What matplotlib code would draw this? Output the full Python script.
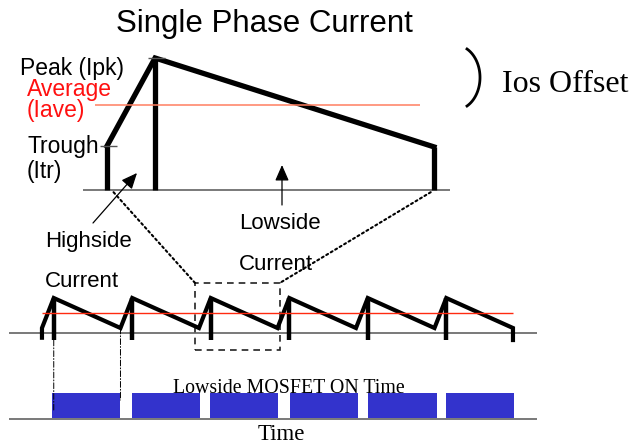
import numpy as np
import matplotlib
matplotlib.use('Agg')
import matplotlib.pyplot as plt
from matplotlib.patches import Rectangle, ConnectionPatch

W, H = 634, 444

# zoomed single cycle: trough -> peak -> end of lowside ramp (time in cycles, current in A)
zoom_t = [0.0, 0.147, 1.0]
zoom_i = [10.0, 30.0, 9.8]
zoom_iave = 19.3

# overview waveform (six cycles)
trough_t = [0, 1, 2, 3, 4, 5, 6]
peak_t = [0.15, 1.15, 2.15, 3.15, 4.15, 5.15]
ov_ipk = 30.0
ov_itr = 4.3
ov_iave = 17.0
ov_ilow = -6.0
zoom_window_t = [1.95, 3.03]
zoom_window_i = [-14.6, 42.9]

# lowside MOSFET ON intervals
on_start = [0.13, 1.15, 2.14, 3.16, 4.15, 5.15]
on_end = [0.99, 2.01, 3.01, 4.03, 5.03, 6.01]

SANS = 'Liberation Sans'
SERIF = 'Liberation Serif'
GREY = '#555555'

fig = plt.figure(figsize=(W / 100, H / 100), dpi=100)


def panel(x0, x1, y_top, y_bot, xlim, ylim):
    """axes placed by pixel box, with its own data limits"""
    ax = fig.add_axes([x0 / W, 1 - y_bot / H, (x1 - x0) / W, (y_bot - y_top) / H])
    ax.set_xlim(xlim)
    ax.set_ylim(ylim)
    ax.axis('off')
    return ax


# ---- zoomed cycle ----
axA = panel(83, 450, 30, 200, (-0.0734, 1.049), (-2.27, 36.36))
axA.axhline(0, color=GREY, lw=1.1)
axA.vlines(zoom_t, 0, zoom_i, color='k', lw=3.8)
axA.plot(zoom_t, zoom_i, color='k', lw=3.8, solid_joinstyle='miter')
axA.hlines(zoom_iave, -0.037, 0.957, color='#ff7f60', lw=1.1)
axA.hlines([zoom_i[1], zoom_i[0]], [zoom_t[1] - 0.022, zoom_t[0] - 0.021],
           [zoom_t[1] + 0.03, zoom_t[0] + 0.031], color=GREY, lw=1.0)

# ---- overview waveform ----
axB = panel(9, 537, 270, 360, (-0.42, 6.306), (-23.1, 54.0))
wt = [trough_t[0]]
wi = [ov_ilow + 2]
for k in range(len(peak_t)):
    wt += [trough_t[k], peak_t[k]]
    wi += [ov_itr, ov_ipk]
wt += [trough_t[-1], trough_t[-1]]
wi += [ov_itr, ov_ilow]
axB.axhline(0, color=GREY, lw=1.1)
axB.plot(wt, wi, color='k', lw=3.0, solid_joinstyle='miter')
axB.vlines(peak_t, ov_ilow, ov_ipk, color='k', lw=3.2)
axB.hlines(ov_iave, trough_t[0], trough_t[-1], color='#ff2a10', lw=1.0, zorder=3)
axB.add_patch(Rectangle((zoom_window_t[0], zoom_window_i[0]),
                        zoom_window_t[1] - zoom_window_t[0],
                        zoom_window_i[1] - zoom_window_i[0],
                        fill=False, ec='#222222', lw=1.2, ls=(0, (4, 3)), clip_on=False))

# ---- lowside ON bars ----
axC = panel(9, 537, 385, 425, (-0.42, 6.306), (-0.28, 1.32))
axC.axhline(-0.04, color=GREY, lw=1.1)
axC.broken_barh([(s, e - s) for s, e in zip(on_start, on_end)], (0, 1),
                facecolor='#3333cc', edgecolor='none')

# connectors
for xa, xb in [(zoom_t[0] + 0.02, zoom_window_t[0]), (zoom_t[-1] - 0.01, zoom_window_t[1])]:
    con = ConnectionPatch(xyA=(xa, -0.5), coordsA=axA.transData,
                          xyB=(xb, zoom_window_i[1]), coordsB=axB.transData,
                          color='k', lw=1.5, ls=(0, (1, 1.5)))
    fig.add_artist(con)
for (xb, yb), yc in [((peak_t[0], ov_ilow), 0.32), ((trough_t[1], ov_itr), 0.72)]:
    con = ConnectionPatch(xyA=(xb, yb), coordsA=axB.transData,
                          xyB=(xb, yc), coordsB=axC.transData,
                          color='k', lw=0.7, ls=(0, (6, 2, 1, 2)))
    fig.add_artist(con)

# ---- text overlay in pixel space ----
ov = fig.add_axes([0, 0, 1, 1])
ov.set_xlim(0, W)
ov.set_ylim(H, 0)
ov.axis('off')
ov.patch.set_alpha(0)

ov.text(264, 32, 'Single Phase Current', ha='center', va='baseline', fontsize=22.5, family=SANS)
ov.text(20, 75, 'Peak (Ipk)', va='baseline', fontsize=16.5, family=SANS)
ov.text(27, 96, 'Average', va='baseline', fontsize=16.5, family=SANS, color='#ff1010')
ov.text(27, 117, '(Iave)', va='baseline', fontsize=16.5, family=SANS, color='#ff1010')
ov.text(28, 153, 'Trough', va='baseline', fontsize=16.5, family=SANS)
ov.text(27, 178, '(Itr)', va='baseline', fontsize=16.5, family=SANS)
ov.text(45, 247, 'Highside', va='baseline', fontsize=16, family=SANS)
ov.text(45, 287, 'Current', va='baseline', fontsize=16, family=SANS)
ov.text(239, 229, 'Lowside', va='baseline', fontsize=16, family=SANS)
ov.text(239, 270, 'Current', va='baseline', fontsize=16, family=SANS)
ov.text(502, 92, 'Ios Offset', va='baseline', fontsize=23, family=SERIF)
ov.text(173, 393, 'Lowside MOSFET ON Time', va='baseline', fontsize=14.3, family=SERIF)
ov.text(258, 440, 'Time', va='baseline', fontsize=16.5, family=SERIF)

arrow = dict(arrowstyle='-|>,head_length=0.8,head_width=0.35', lw=0.9, color='k',
             shrinkA=0, shrinkB=0, mutation_scale=12)
ov.annotate('', xy=(137, 173), xytext=(93, 223), arrowprops=arrow)
ov.annotate('', xy=(282, 165), xytext=(282, 205), arrowprops=arrow)

# offset bracket
th = np.radians(np.linspace(-61.3, 61.3, 60))
ov.plot(455 + 25 * np.cos(th), 77.5 + 32.5 * np.sin(th), color='k', lw=2.0)

fig.savefig('out.png', dpi=100, facecolor='white')
